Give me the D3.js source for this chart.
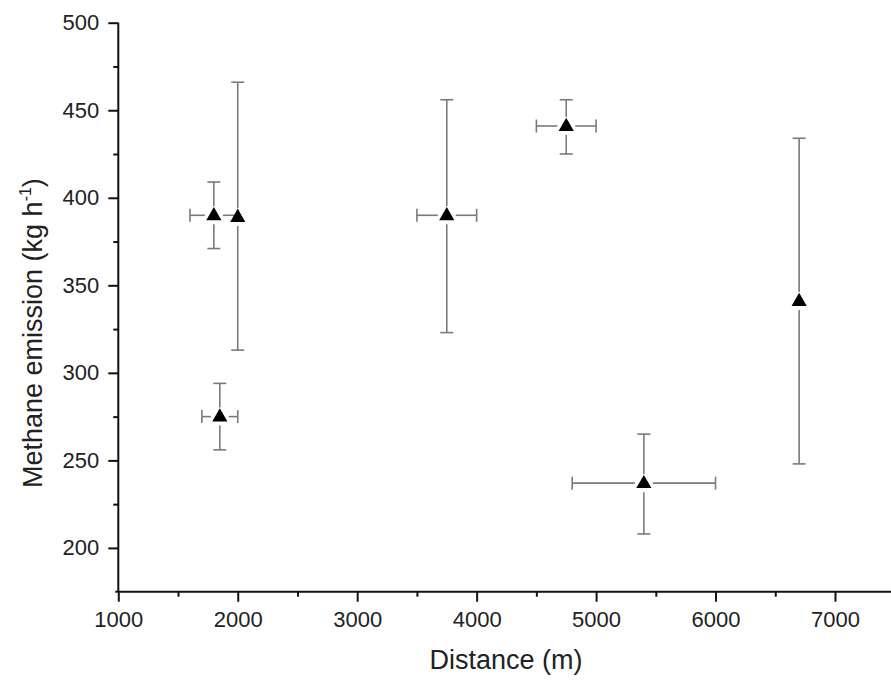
<!DOCTYPE html>
<html>
<head>
<meta charset="utf-8">
<script src="https://cdn.jsdelivr.net/npm/d3@7"></script>
<style>
  body { margin: 0; background: #fff; }
  svg { display: block; font-family: "Liberation Sans", Arial, sans-serif; }
</style>
</head>
<body>
<div id="graphicContainer"></div>
<script>
// values
var distance     = [1800, 2000, 1850, 3750, 4750, 5400, 6700]
var distanceLow  = [1600, null, 1700, 3500, 4500, 4800, null]
var distanceHigh = [2000, null, 2000, 4000, 5000, 6000, null]
var emission     = [390, 389, 275, 390, 441, 237, 341]
var emissionLow  = [371, 313, 256, 323, 425, 208, 248]
var emissionHigh = [409, 466, 294, 456, 456, 265, 434]

var xMajor = [1000, 2000, 3000, 4000, 5000, 6000, 7000]
var xMinor = [1500, 2500, 3500, 4500, 5500, 6500]
var yMajor = [200, 250, 300, 350, 400, 450, 500]
var yMinor = [225, 275, 325, 375, 425, 475]

var width = 891, height = 682
var errColor = "#7a7a7a"
var gap = 9, cap = 6.5

var svg = d3.select("#graphicContainer").append("svg")
    .attr("width", width)
    .attr("height", height)

var x = d3.scaleLinear().domain([1000, 7500]).range([118.3, 894.7])
var y = d3.scaleLinear().domain([175, 500]).range([591.7, 22.7])

var points = distance.map((d, i) => ({
    x: d, y: emission[i],
    xl: distanceLow[i], xh: distanceHigh[i],
    yl: emissionLow[i], yh: emissionHigh[i]
}))

// error bars
var bars = svg.append("g")
    .attr("stroke", errColor)
    .attr("stroke-width", 1.6)
    .attr("fill", "none")

points.forEach(p => {
    var cx = x(p.x), cy = y(p.y)
    var top = y(p.yh), bot = y(p.yl)
    if (cy - top > gap) {
        bars.append("line").attr("x1", cx).attr("x2", cx).attr("y1", cy - gap).attr("y2", top)
    }
    bars.append("line").attr("x1", cx - cap).attr("x2", cx + cap).attr("y1", top).attr("y2", top)
    if (bot - cy > gap) {
        bars.append("line").attr("x1", cx).attr("x2", cx).attr("y1", cy + gap).attr("y2", bot)
    }
    bars.append("line").attr("x1", cx - cap).attr("x2", cx + cap).attr("y1", bot).attr("y2", bot)

    if (p.xl != null) {
        var left = x(p.xl), right = x(p.xh)
        bars.append("line").attr("x1", cx - gap).attr("x2", left).attr("y1", cy).attr("y2", cy)
        bars.append("line").attr("x1", left).attr("x2", left).attr("y1", cy - cap).attr("y2", cy + cap)
        bars.append("line").attr("x1", cx + gap).attr("x2", right).attr("y1", cy).attr("y2", cy)
        bars.append("line").attr("x1", right).attr("x2", right).attr("y1", cy - cap).attr("y2", cy + cap)
    }
})

// markers
svg.append("g").selectAll("path")
    .data(points)
    .enter()
    .append("path")
    .attr("d", d3.symbol().type(d3.symbolTriangle).size(100))
    .attr("transform", d => "translate(" + x(d.x) + "," + (y(d.y) + 0.5) + ")")
    .attr("fill", "#000")

// axes
var fontSize = 22

var xAxis = svg.append("g")
    .attr("transform", "translate(0," + y(175) + ")")
    .call(d3.axisBottom(x).tickValues(xMajor).tickSize(10).tickSizeOuter(0).tickPadding(10).tickFormat(d3.format("d")))
svg.append("g")
    .attr("transform", "translate(0," + y(175) + ")")
    .call(d3.axisBottom(x).tickValues(xMinor).tickSize(5).tickSizeOuter(0).tickFormat(""))
    .select(".domain").remove()

var yAxis = svg.append("g")
    .attr("transform", "translate(" + x(1000) + ",0)")
    .call(d3.axisLeft(y).tickValues(yMajor).tickSize(10).tickSizeOuter(0).tickPadding(9))
svg.append("g")
    .attr("transform", "translate(" + x(1000) + ",0)")
    .call(d3.axisLeft(y).tickValues(yMinor).tickSize(5).tickSizeOuter(0).tickFormat(""))
    .select(".domain").remove()

xAxis.select(".domain").attr("d", "M" + (x(1000) - 3) + ",0H" + width)
yAxis.select(".domain").attr("d", "M0," + y(500) + "V" + y(175))

svg.selectAll(".domain, .tick line")
    .attr("stroke", "#111")
    .attr("stroke-width", 2)

svg.selectAll(".tick text")
    .attr("fill", "#222")
    .style("font-size", fontSize + "px")
    .style("font-family", "Liberation Sans, Arial, sans-serif")

// axis titles
svg.append("text")
    .attr("x", 506)
    .attr("y", 669)
    .attr("text-anchor", "middle")
    .attr("fill", "#222")
    .style("font-size", "27px")
    .text("Distance (m)")

var yTitle = svg.append("text")
    .attr("transform", "translate(42,488) rotate(-90)")
    .attr("text-anchor", "start")
    .attr("fill", "#222")
    .style("font-size", "27px")
yTitle.append("tspan").text("Methane emission (kg h")
yTitle.append("tspan").attr("dy", -11).style("font-size", "16px").text("-1")
yTitle.append("tspan").attr("dy", 11).text(")")
</script>
</body>
</html>
